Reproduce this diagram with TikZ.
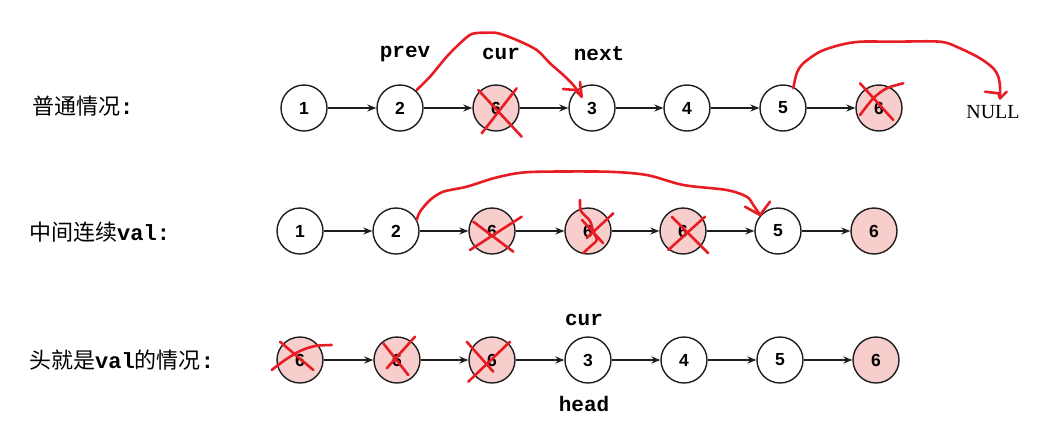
\documentclass[tikz,border=0pt]{standalone}
\usepackage{fontspec}
\setmainfont{Liberation Serif}
\newfontfamily\cjk{Noto Sans CJK SC}
\newfontfamily\mono{Liberation Mono}
\newfontfamily\numfont{Liberation Sans}
\usetikzlibrary{arrows.meta}
\definecolor{pinkfill}{RGB}{248,206,204}
\definecolor{ink}{RGB}{30,30,30}
\definecolor{pen}{RGB}{232,28,36}
\tikzset{
  lnode/.style={circle, draw=ink, line width=1.4pt, fill=white, minimum size=46pt, inner sep=0pt, font=\numfont\bfseries\fontsize{17.5}{17.5}\selectfont},
  pnode/.style={lnode, fill=pinkfill},
  arr/.style={draw=ink, line width=1.3pt, -{Stealth[length=9pt,width=7pt]}},
  redpen/.style={draw=pen, line width=2.6pt, line cap=round, line join=round},
  cjklabel/.style={anchor=west, inner sep=0pt, font=\cjk\fontsize{22}{22}\selectfont},
  varlabel/.style={inner sep=0pt, font=\mono\bfseries\fontsize{21}{21}\selectfont},
}
\begin{document}
\begin{tikzpicture}[x=1pt,y=-1pt]
\useasboundingbox (0,0) rectangle (1038,421);
\fill[white] (0,0) rectangle (1038,421);

% labels
\node[cjklabel] (l1) at (32,106) {普通情况{\mono\bfseries :}};
\node[cjklabel] (l2) at (29,232) {中间连续{\mono\bfseries val:}};
\node[cjklabel] (l3) at (29,360) {头就是{\mono\bfseries val}的情况{\mono\bfseries :}};

% row 1
\node[lnode] (a1) at (304,108) {1};
\node[lnode] (a2) at (400,108) {2};
\node[pnode] (a3) at (496,108) {6};
\node[lnode] (a4) at (592,108) {3};
\node[lnode] (a5) at (687,108) {4};
\node[lnode] (a6) at (783,108) {5};
\node[pnode] (a7) at (879,108) {6};
\foreach \i/\j in {a1/a2,a2/a3,a3/a4,a4/a5,a5/a6,a6/a7} \draw[arr] (\i) -- (\j);
\node[varlabel] (prev) at (405,54) {prev};
\node[varlabel] (cur1) at (501,54) {cur};
\node[varlabel] (next) at (599,54) {next};
\node[inner sep=0pt, font=\fontsize{20}{20}\selectfont] (null) at (993,112) {NULL};

% row 2
\node[lnode] (b1) at (300,231) {1};
\node[lnode] (b2) at (396,231) {2};
\node[pnode] (b3) at (492,231) {6};
\node[pnode] (b4) at (588,231) {6};
\node[pnode] (b5) at (683,231) {6};
\node[lnode] (b6) at (778,231) {5};
\node[pnode] (b7) at (874,231) {6};
\foreach \i/\j in {b1/b2,b2/b3,b3/b4,b4/b5,b5/b6,b6/b7} \draw[arr] (\i) -- (\j);

% row 3
\node[pnode] (c1) at (300,360) {6};
\node[pnode] (c2) at (397,360) {6};
\node[pnode] (c3) at (492,360) {6};
\node[lnode] (c4) at (588,360) {3};
\node[lnode] (c5) at (684,360) {4};
\node[lnode] (c6) at (780,360) {5};
\node[pnode] (c7) at (876,360) {6};
\foreach \i/\j in {c1/c2,c2/c3,c3/c4,c4/c5,c5/c6,c6/c7} \draw[arr] (\i) -- (\j);
\node[varlabel] (cur3) at (584,320) {cur};
\node[varlabel] (head) at (584,404) {head};

% ---- red hand drawn marks ----
% row 1: 2 -> 3
\draw[redpen] plot[smooth, tension=0.5] coordinates {(416.7,90) (430,76.7) (446.7,56.7) (460,43.3) (471.7,34) (486,32.7) (498.3,33.3) (516.7,40) (536.7,50) (550,63.3) (563.3,75) (573.3,85) (581.7,96.7)};
\draw[redpen] (563,89) -- (575,90) -- (581.7,96.7) -- (580,82);
% cross on a3
\draw[redpen] (478.3,90) -- (521.7,136.7);
\draw[redpen] (516.7,88.3) -- (481.7,133.3);
% row 1: 5 -> NULL
\draw[redpen] plot[smooth, tension=0.5] coordinates {(793.3,88.3) (796.7,73.3) (803.3,63.3) (820,51.7) (840,45) (860,41.7) (893.3,41.7) (940,41.7) (960,48.3) (980,58.3) (993.3,68.3) (998.3,76.7) (1000,86.7) (1000,98.3)};
\draw[redpen] (985,91.7) -- (998.3,93.3) -- (1000,98.3) -- (1006.7,91.7);
% cross on a7
\draw[redpen] (860,83.3) -- (893.3,120);
\draw[redpen] plot[smooth, tension=0.5] coordinates {(903.3,83.3) (886.7,88.3) (873.3,98.3) (860,115)};

% row 2: 2 -> 5
\draw[redpen] plot[smooth, tension=0.5] coordinates {(416.7,220) (420,211.7) (430,200) (443.3,191.7) (466.7,186.7) (493.3,178.3) (516.7,173.3) (540,171.7) (606.7,171.7) (646.7,175) (683.3,185) (726.7,190) (746.7,196.7) (753.3,205) (760,215)};
\draw[redpen] (745,206.7) -- (760,215) -- (770,201.7);
% cross on b3
\draw[redpen] (473.3,221.7) -- (513.3,251.7);
\draw[redpen] (521.7,216.7) -- (470,250);
% cross on b4
\draw[redpen] plot[smooth, tension=0.5] coordinates {(580,200) (581,211) (590,221) (593.3,231.7) (596.7,240) (590,246.7) (583.3,253)};
\draw[redpen] (613.3,213.3) -- (586.7,238);
\draw[redpen] (582,220) -- (603,243);
% cross on b5
\draw[redpen] (671.7,216.7) -- (708.3,253.3);
\draw[redpen] (705,216.7) -- (668.3,250);

% row 3 crosses
\draw[redpen] (280,341.7) -- (313.3,370);
\draw[redpen] plot[smooth, tension=0.5] coordinates {(331.7,345) (315,346) (300,351) (285,360) (271.7,370)};
\draw[redpen] (383.3,343.3) -- (408.3,375);
\draw[redpen] (415,336.7) -- (386.7,368.3);
\draw[redpen] (466.7,341.7) -- (493.3,371.7);
\draw[redpen] (510,341.7) -- (468.3,381.7);
\end{tikzpicture}
\end{document}
